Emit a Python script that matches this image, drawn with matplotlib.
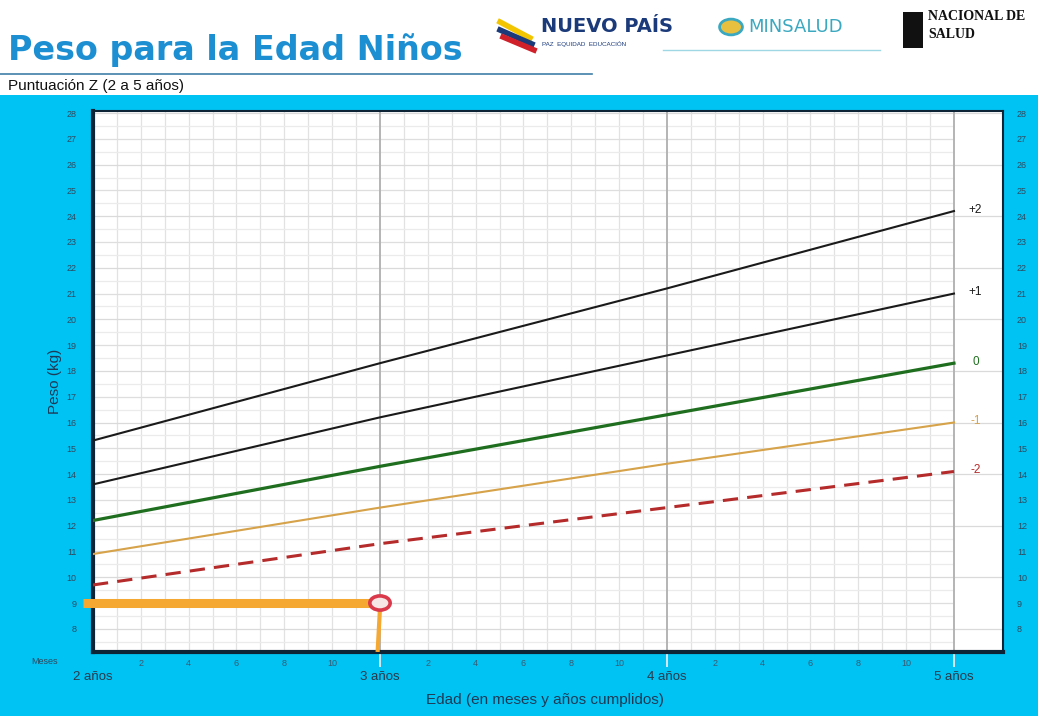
import matplotlib
matplotlib.use("Agg")
import matplotlib.pyplot as plt
from matplotlib.patches import Ellipse, Rectangle, Circle
from matplotlib.lines import Line2D

plt.rcParams["font.family"] = ["Liberation Sans", "DejaVu Sans"]

# ---- data ----
age_months = [24, 36, 48, 60]
z_plus2 = [15.3, 18.3, 21.2, 24.2]
z_plus1 = [13.6, 16.2, 18.6, 21.0]
z_zero = [12.2, 14.3, 16.3, 18.3]
z_minus1 = [10.9, 12.7, 14.4, 16.0]
z_minus2 = [9.7, 11.3, 12.7, 14.1]
z_labels = ["+2", "+1", "0", "-1", "-2"]
year_ticks = [24, 36, 48, 60]
year_labels = ["2 años", "3 años", "4 años", "5 años"]
month_label_vals = ["2", "4", "6", "8", "10"]
y_ticks = list(range(8, 29))
marker_age = 36
marker_weight = 9.0

W, H = 1038, 716
fig = plt.figure(figsize=(W / 100, H / 100), dpi=100)
fig.patch.set_facecolor("white")

def fx(px):
    return px / W

def fy(py):
    return 1 - py / H

cyan = "#00C2F3"
fig.patches.append(Rectangle((0, 0), 1, fy(95), transform=fig.transFigure,
                             facecolor=cyan, edgecolor="none", zorder=-5))
# header elements
fig.text(fx(8), fy(50), "Peso para la Edad Niños", fontsize=24, fontweight="heavy",
         color="#1C8FD2", va="center", ha="left", family="DejaVu Sans")
fig.add_artist(Line2D([0, fx(592)], [fy(74), fy(74)], color="#3f7fa8", lw=1.2,
                      transform=fig.transFigure))
fig.text(fx(8), fy(86), "Puntuación Z (2 a 5 años)", fontsize=11, color="#111111",
         va="center", ha="left")
# logos approximated as text
fig.text(fx(541), fy(27), "NUEVO PAÍS", fontsize=14, fontweight="bold", color="#1b3a7a",
         va="center", ha="left", family="DejaVu Sans Condensed")
fig.text(fx(542), fy(44), "PAZ  EQUIDAD  EDUCACIÓN", fontsize=4.5, color="#1b3a7a",
         va="center", ha="left")
fig.add_artist(Line2D([fx(500), fx(530)], [fy(22), fy(38)], color="#f2c500", lw=4,
                      transform=fig.transFigure))
fig.add_artist(Line2D([fx(500), fx(532)], [fy(30), fy(44)], color="#1b3a7a", lw=4,
                      transform=fig.transFigure))
fig.add_artist(Line2D([fx(503), fx(534)], [fy(37), fy(50)], color="#d0202a", lw=4,
                      transform=fig.transFigure))
fig.patches.append(Circle((fx(731), fy(27)), 0.011, transform=fig.transFigure,
                          facecolor="#e8c040", edgecolor="#3aa8c0", lw=2))
fig.text(fx(748), fy(27), "MINSALUD", fontsize=13, color="#3aa8c0",
         va="center", ha="left", family="DejaVu Sans")
fig.add_artist(Line2D([fx(663), fx(880)], [fy(50), fy(50)], color="#9fd8e4", lw=1,
                      transform=fig.transFigure))
fig.patches.append(Rectangle((fx(903), fy(48)), fx(20), 36 / H, transform=fig.transFigure,
                             facecolor="#111111", edgecolor="none"))
fig.text(fx(928), fy(17), "NACIONAL DE", fontsize=10, fontweight="bold", color="#111111",
         va="center", ha="left", family="Liberation Serif")
fig.text(fx(928), fy(34), "SALUD", fontsize=10, fontweight="bold", color="#111111",
         va="center", ha="left", family="Liberation Serif")

# ---- axes ----
left, right, top, bottom = 93, 1003, 111, 652
ax = fig.add_axes([fx(left), fy(bottom), fx(right - left), (bottom - top) / H])
ax.set_zorder(2)
ax.set_facecolor("white")
ax.set_xlim(24, 62.05)
ax.set_ylim(7.1, 28.08)

# grid
for m in range(25, 60):
    if m not in year_ticks:
        ax.axvline(m, color="#e2e2e2", lw=0.9, zorder=1)
for i in range(15, 57):
    v = i * 0.5
    if v == int(v) and int(v) % 2 == 0:
        ax.axhline(v, color="#dadada", lw=0.9, zorder=1)
    else:
        ax.hlines(v, 24, 60, color="#dedede" if v == int(v) else "#ebebeb",
                  lw=0.9, zorder=1)
for yt in year_ticks[1:]:
    ax.axvline(yt, color="#b4b4b4", lw=1.4, zorder=1.5)
    ax.add_line(Line2D([yt, yt], [7.1, 6.55], color="#d8e8f0", lw=1.4, clip_on=False))

# lines
series = [z_plus2, z_plus1, z_zero, z_minus1, z_minus2]
colors = ["#1a1a1a", "#1a1a1a", "#1f6e1f", "#d6a24a", "#b52a2a"]
widths = [1.5, 1.5, 2.3, 1.5, 2.2]
styles = ["-", "-", "-", "-", (0, (5, 3))]
for s, c, lw, ls, lab in zip(series, colors, widths, styles, z_labels):
    ax.plot(age_months, s, color=c, lw=lw, ls=ls, zorder=3)
    ax.text(60.9, s[-1] + 0.05, lab, color=c, fontsize=8.5, va="center", ha="center")

# marker
orange = "#F5A832"
ax.plot([23.6, marker_age - 0.35], [marker_weight, marker_weight], color=orange, lw=6.5,
        solid_capstyle="butt", clip_on=False, zorder=4)
ax.plot([marker_age, marker_age - 0.1], [marker_weight - 0.2, 7.1], color=orange, lw=3,
        solid_capstyle="butt", zorder=4)
ax.add_patch(Ellipse((marker_age, marker_weight), 0.85, 0.55, facecolor="#f6e6e6",
                     edgecolor="#d9394a", lw=2.6, zorder=5))

# spines
for sp in ["left", "bottom"]:
    ax.spines[sp].set_linewidth(3)
    ax.spines[sp].set_color("#0c2436")
for sp in ["top", "right"]:
    ax.spines[sp].set_linewidth(1.5)
    ax.spines[sp].set_color("#0c2436")

tick_col = "#2f4a5e"
ax.set_yticks(y_ticks)
ax.set_yticklabels([str(v) for v in y_ticks], fontsize=6.5, color=tick_col)
ax.tick_params(axis="y", length=0, pad=12)

ax.set_xticks(year_ticks)
ax.set_xticklabels(year_labels, fontsize=9.5, color="#2a3a4a")
minor_pos = []
minor_lab = []
for yt in year_ticks[:-1]:
    for i, lab in enumerate(month_label_vals):
        minor_pos.append(yt + 2 * (i + 1))
        minor_lab.append(lab)
ax.set_xticks(minor_pos, minor=True)
ax.set_xticklabels(minor_lab, minor=True, fontsize=6.5, color="#3a5a70")
ax.tick_params(axis="x", which="major", length=0, pad=14)
ax.tick_params(axis="x", which="minor", length=0, pad=5)
ax.text(-0.053, -0.018, "Meses", transform=ax.transAxes, fontsize=6.5, color=tick_col,
        ha="center", va="center")

ax2 = ax.twinx()
ax2.set_ylim(ax.get_ylim())
ax2.set_yticks(y_ticks)
ax2.set_yticklabels([str(v) for v in y_ticks], fontsize=6.5, color=tick_col)
ax2.tick_params(axis="y", length=0, pad=10)
for sp in ax2.spines.values():
    sp.set_visible(False)

ax.set_ylabel("Peso (kg)", fontsize=11, color="#1f3a55", labelpad=3)
fig.text(fx(545), fy(700), "Edad (en meses y años cumplidos)", fontsize=11,
         color="#1f3a55", ha="center", va="center")

fig.savefig("out.png", dpi=100)
